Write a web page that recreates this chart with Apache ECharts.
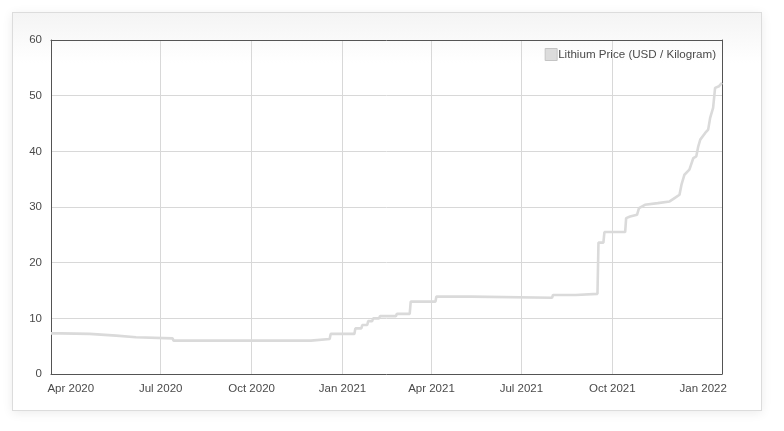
<!DOCTYPE html>
<html>
<head>
<meta charset="utf-8">
<script src="https://cdn.jsdelivr.net/npm/echarts@6/dist/echarts.min.js"></script>
<style>
html,body{margin:0;padding:0;background:#fff;width:784px;height:431px;overflow:hidden;}
#card{position:absolute;left:12px;top:12px;width:748px;height:397px;border:1px solid #dcdcdc;
background:linear-gradient(to bottom,#f4f4f4 0px,#ffffff 50px);box-shadow:0 2px 10px rgba(0,0,0,0.08);}
#chart{position:absolute;left:0;top:0;width:784px;height:431px;}
</style>
</head>
<body>
<div id="card"></div>
<div id="chart"></div>
<script>
// Data
const seriesName = 'Lithium Price (USD / Kilogram)';
const dates = ['2020-03-12','2020-03-22','2020-03-23','2020-04-20','2020-04-21','2020-05-17','2020-05-18','2020-06-06','2020-06-07','2020-07-13','2020-07-14','2020-11-30','2020-12-01','2020-12-19','2020-12-20','2021-01-13','2021-01-14','2021-01-20','2021-01-21','2021-01-26','2021-01-27','2021-01-31','2021-02-01','2021-02-07','2021-02-08','2021-02-24','2021-02-25','2021-03-10','2021-03-11','2021-04-05','2021-04-06','2021-05-11','2021-05-12','2021-08-01','2021-08-02','2021-08-25','2021-08-26','2021-09-16','2021-09-17','2021-09-22','2021-09-23','2021-10-14','2021-10-15','2021-10-19','2021-10-26','2021-10-28','2021-11-03','2021-11-16','2021-11-28','2021-12-03','2021-12-08','2021-12-10','2021-12-13','2021-12-18','2021-12-22','2021-12-25','2021-12-27','2021-12-29','2022-01-03','2022-01-06','2022-01-08','2022-01-11','2022-01-13','2022-01-17','2022-01-20'];
const values = [7.3,7.3,7.2,7.2,6.9,6.9,6.6,6.6,6.4,6.4,6.0,6.0,6.3,6.3,7.2,7.2,8.2,8.2,8.8,8.8,9.5,9.5,10.0,10.0,10.4,10.4,10.8,10.8,13.0,13.0,13.9,13.9,13.7,13.7,14.2,14.2,14.4,14.4,23.6,23.6,25.5,25.5,28.0,28.3,28.6,29.8,30.4,30.7,31.0,31.6,32.2,34.0,35.8,36.7,38.8,39.1,40.9,42.1,43.3,43.9,46.0,47.8,51.4,51.7,52.3];
const xTickDates = ['2020-04-01','2020-07-01','2020-10-01','2021-01-01','2021-04-01','2021-07-01','2021-10-01','2022-01-01'];
const xTickLabels = ['Apr 2020','Jul 2020','Oct 2020','Jan 2021','Apr 2021','Jul 2021','Oct 2021','Jan 2022'];
const yMin = 0, yMax = 60, yStep = 10;

const ts = d => Date.parse(d + 'T00:00:00Z');
const data = dates.map((d, i) => [ts(d), values[i]]);
const tickTs = xTickDates.map(ts);
const labelMap = {};
tickTs.forEach((t, i) => { labelMap[t] = xTickLabels[i]; });
const xMin = ts(dates[0]), xMax = ts(dates[dates.length - 1]);

const chart = echarts.init(document.getElementById('chart'), null, {renderer: 'canvas'});
const fontFamily = '"Liberation Sans", Arial, Helvetica, sans-serif';
const borderLine = {show: true, onZero: false, lineStyle: {color: '#545454', width: 1}};
chart.setOption({
  animation: false,
  backgroundColor: 'transparent',
  grid: {left: 51, right: 62, top: 40, bottom: 57, show: false},
  legend: {
    data: [seriesName], right: 68, top: 48, orient: 'vertical', padding: 0,
    icon: 'rect', itemWidth: 12, itemHeight: 12,
    itemStyle: {color: '#dcdcdc', borderColor: '#c4c4c4', borderWidth: 1},
    textStyle: {color: '#4a4a4a', fontSize: 11.6, fontFamily: fontFamily, padding: [0, 0, 0, -4]}
  },
  xAxis: [{
    type: 'value', min: xMin, max: xMax, position: 'bottom',
    axisLine: borderLine,
    axisTick: {show: false, customValues: tickTs},
    axisLabel: {customValues: tickTs, color: '#4a4a4a', fontSize: 11.5, fontFamily: fontFamily, margin: 9,
      formatter: v => labelMap[v] || ''},
    splitLine: {show: true, showMinLine: false, showMaxLine: false, lineStyle: {color: '#d8d8d8', width: 1}},
    z: 1
  }, {
    type: 'value', min: xMin, max: xMax, position: 'top',
    axisLine: borderLine, axisTick: {show: false}, axisLabel: {show: false}, splitLine: {show: false}, z: 3
  }],
  yAxis: [{
    type: 'value', min: yMin, max: yMax, interval: yStep, position: 'left',
    axisLine: borderLine, axisTick: {show: false},
    axisLabel: {color: '#4a4a4a', fontSize: 11.5, fontFamily: fontFamily, margin: 9},
    splitLine: {show: true, showMinLine: false, showMaxLine: false, lineStyle: {color: '#d8d8d8', width: 1}},
    z: 1
  }, {
    type: 'value', min: yMin, max: yMax, interval: yStep, position: 'right',
    axisLine: borderLine, axisTick: {show: false}, axisLabel: {show: false}, splitLine: {show: false}, z: 3
  }],
  series: [{
    name: seriesName, type: 'line', data: data, xAxisIndex: 0, yAxisIndex: 0,
    showSymbol: false, symbol: 'none',
    lineStyle: {color: '#dadada', width: 2.6},
    itemStyle: {color: '#dadada'}
  }]
});
</script>
</body>
</html>
